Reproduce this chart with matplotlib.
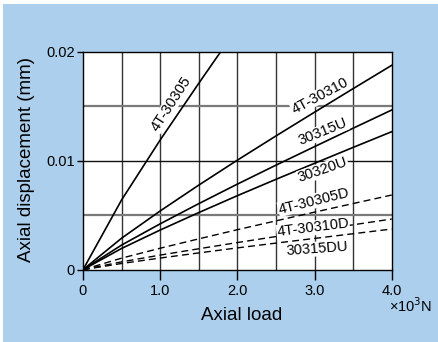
import matplotlib
matplotlib.use("Agg")
import matplotlib.pyplot as plt
from matplotlib.patches import Rectangle

plt.rcParams['font.family'] = ['Liberation Sans', 'DejaVu Sans']

# Data (axial load in 10^3 N, axial displacement in mm)
load = [0, 0.5, 1.0, 1.5, 2.0, 2.5, 3.0, 3.5, 4.0]
load_30305 = [0, 0.5, 1.0, 1.5, 2.0]
disp_4T_30305 = [0, 0.0064, 0.0119, 0.0171, 0.0222]
disp_4T_30310 = [0, 0.00289, 0.00539, 0.00776, 0.01005, 0.01227, 0.01445, 0.01661, 0.01875]
disp_30315U = [0, 0.00226, 0.00421, 0.00606, 0.00785, 0.00959, 0.01129, 0.01298, 0.01465]
disp_30320U = [0, 0.00195, 0.00364, 0.00524, 0.00679, 0.00829, 0.00976, 0.01122, 0.01266]
disp_4T_30305D = [0, 0.00106, 0.00197, 0.00283, 0.00367, 0.00448, 0.00528, 0.00607, 0.00685]
disp_4T_30310D = [0, 0.00072, 0.00134, 0.00192, 0.00249, 0.00304, 0.00358, 0.00412, 0.00465]
disp_30315DU = [0, 0.00057, 0.00107, 0.00154, 0.00200, 0.00244, 0.00287, 0.00330, 0.00373]

x_ticks = [0, 1.0, 2.0, 3.0, 4.0]
x_tick_labels = ['0', '1.0', '2.0', '3.0', '4.0']
y_ticks = [0, 0.01, 0.02]
y_tick_labels = ['0', '0.01', '0.02']

W, H = 439, 342
fig = plt.figure(figsize=(W / 100, H / 100), dpi=100)
fig.patch.set_facecolor('white')
bg = '#abcfec'
fig.patches.append(Rectangle((3 / W, 0), 1 - 3 / W, 1 - 4 / H, transform=fig.transFigure,
                             facecolor=bg, edgecolor='none', zorder=-10))

ax = fig.add_axes([83 / W, 1 - 269.7 / H, (391.7 - 83) / W, (269.7 - 51.7) / H])
ax.set_facecolor('white')
ax.set_xlim(0, 4.0)
ax.set_ylim(0, 0.02)

# grid
for gx in [0.5, 1.0, 1.5, 2.0, 2.5, 3.0, 3.5]:
    ax.axvline(gx, color='#333333', lw=1.0, zorder=1)
for gy, c, w in [(0.005, '#7a7a7a', 1.6), (0.01, '#111111', 1.0), (0.015, '#7a7a7a', 1.6)]:
    ax.axhline(gy, color=c, lw=w, zorder=1)

solid = dict(color='black', lw=1.2, zorder=3)
dashed = dict(color='black', lw=1.0, zorder=3, dashes=(5, 3))
ax.plot(load_30305, disp_4T_30305, **solid)
ax.plot(load, disp_4T_30310, **solid)
ax.plot(load, disp_30315U, **solid)
ax.plot(load, disp_30320U, **solid)
ax.plot(load, disp_4T_30305D, **dashed)
ax.plot(load, disp_4T_30310D, **dashed)
ax.plot(load, disp_30315DU, **dashed)

def px2data(px, py):
    x = (px - 83) / (391.7 - 83) * 4.0
    y = (269.7 - py) / (269.7 - 51.7) * 0.02
    return x, y

labels = [
    ('4T-30305', 171, 104, 57),
    ('4T-30310', 320, 96, 28),
    ('30315U', 323, 132, 22),
    ('30320U', 323, 170, 19),
    ('4T-30305D', 314, 201, 14),
    ('4T-30310D', 313, 228, 7),
    ('30315DU', 317, 249, 4),
]
for txt, px, py, rot in labels:
    x, y = px2data(px, py)
    ax.text(x, y, txt, rotation=rot,
            ha='center', va='center', fontsize=10.5, zorder=3.5,
            bbox=dict(facecolor='white', edgecolor='none', pad=0.3))

for s in ax.spines.values():
    s.set_color('black')
    s.set_linewidth(1.0)
    s.set_zorder(4)

ax.set_xticks(x_ticks)
ax.set_xticklabels(x_tick_labels)
ax.set_yticks(y_ticks)
ax.set_yticklabels(y_tick_labels)
ax.tick_params(axis='x', direction='out', length=7, width=1.0, labelsize=10.5, pad=3)
ax.tick_params(axis='y', direction='out', length=4, width=1.0, labelsize=10.5, pad=2)

fig.text(411 / W, 1 - 306 / H, '×10$^3$N', fontsize=10.5, ha='center', va='center')
fig.text(242 / W, 1 - 315 / H, 'Axial load', fontsize=13.5, ha='center', va='center')
fig.text(27 / W, 1 - 160 / H, 'Axial displacement (mm)', fontsize=13.5, rotation=90,
         ha='center', va='center')

fig.savefig('out.png', dpi=100)
